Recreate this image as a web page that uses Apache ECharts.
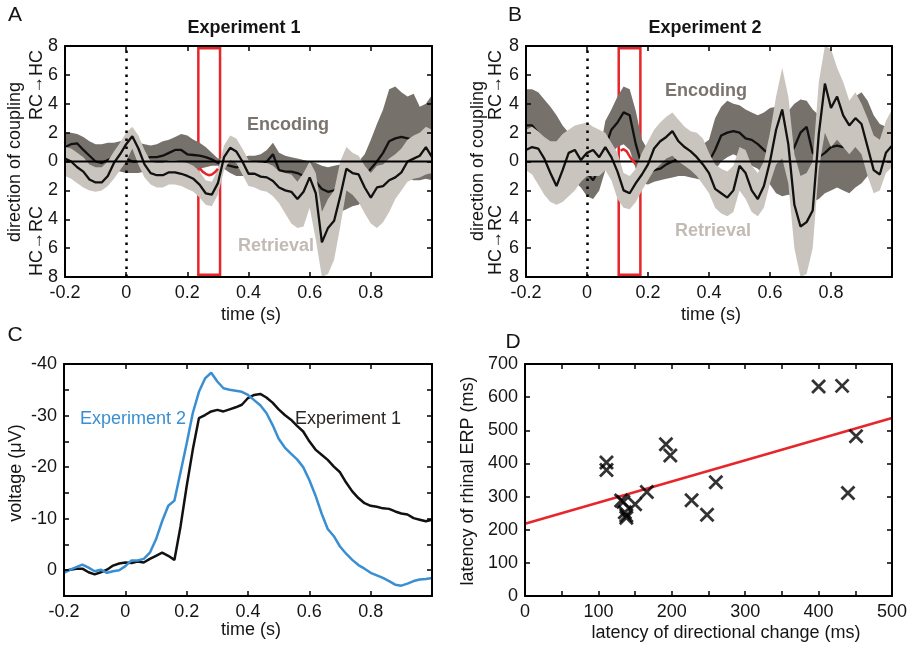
<!DOCTYPE html>
<html><head><meta charset="utf-8">
<script src="https://cdn.jsdelivr.net/npm/echarts@6/dist/echarts.min.js"></script>
<style>html,body{margin:0;padding:0;background:#fff}#c{width:915px;height:646px}</style>
</head><body><div id="c"></div><script>
// shared time grid (s)
const T = [-0.2,-0.18,-0.16,-0.14,-0.12,-0.1,-0.08,-0.06,-0.04,-0.02,0,0.02,0.04,0.06,0.08,0.1,0.12,0.14,0.16,0.18,0.2,0.22,0.24,0.26,0.28,0.3,0.32,0.34,0.36,0.38,0.4,0.42,0.44,0.46,0.48,0.5,0.52,0.54,0.56,0.58,0.6,0.62,0.64,0.66,0.68,0.7,0.72,0.74,0.76,0.78,0.8,0.82,0.84,0.86,0.88,0.9,0.92,0.94,0.96,0.98,1.0];

// Panel A (Experiment 1)
const A_retMean = [0.2,0.0,-0.4,-0.7,-1.25,-1.45,-1.45,-1.0,-0.1,0.5, 1.2,1.75,0.9,-0.2,-0.8,-0.95,-0.95,-0.75,-0.75,-0.85, -1.0,-1.2,-1.6,-2.2,-2.3,-1.5,0.3,0.95,0.7,0.0, -0.85,-0.85,-1.05,-1.1,-1.35,-1.8,-2.0,-2.1,-2.6,-2.1, -1.1,-2.2,-5.6,-4.6,-4.1,-2.4,-0.5,-0.8,-0.9,-1.8, -2.5,-1.8,-1.7,-1.3,-1.1,-0.75,0.0,0.2,0.4,1.0, 0.3];
const A_retUp = [1.0,0.9,0.6,0.3,-0.2,-0.4,-0.4,0.0,0.7,1.3, 2.0,2.4,1.8,0.8,0.0,-0.1,-0.1,0.1,0.1,0.0, -0.1,-0.3,-0.7,-1.3,-1.4,-0.6,1.1,1.8,1.6,0.9, 0.1,0.0,-0.1,-0.1,-0.3,-0.7,-0.8,-0.9,-1.4,-0.8, 0.0,-0.8,-3.5,-2.6,-2.0,0.0,1.0,0.6,0.4,-0.3, -0.8,-0.3,-0.2,0.2,0.5,0.9,1.5,1.8,2.0,2.4, 2.2];
const A_retLo = [-1.0,-1.2,-1.5,-1.8,-2.0,-2.1,-2.0,-1.7,-1.2,-0.6, 0.0,0.9,-0.2,-1.1,-1.6,-1.8,-1.8,-1.6,-1.6,-1.7, -1.9,-2.1,-2.5,-3.0,-3.1,-2.3,-0.6,0.1,-0.1,-0.9, -1.7,-1.8,-2.0,-2.1,-2.4,-2.9,-3.6,-4.3,-4.6,-4.5, -3.2,-5.4,-8.0,-7.8,-6.8,-4.5,-2.0,-2.3,-2.8,-3.6, -4.3,-4.6,-4.2,-3.5,-2.6,-2.0,-1.4,-1.2,-1.1,-0.9, -0.8];
const A_encMean = [1.0,1.2,1.25,0.8,0.4,0.0,-0.1,0.1,0.3,0.3, 0.2,0.0,0.0,0.2,0.3,0.3,0.4,0.6,0.8,0.8, 0.5,0.45,0.4,0.3,0.15,-0.1,-0.2,-0.3,-0.4,-0.3, -0.2,-0.2,-0.3,0.0,0.5,-0.6,-0.7,-0.7,-0.8,-1.0, -1.2,-1.4,-1.9,-2.1,-2.0,-1.8,-1.6,-1.5,-1.3,-1.0, -0.5,0.0,0.6,1.4,1.6,1.7,1.6,1.5,1.2,1.5, 1.6];
const A_encUp = [2.0,2.0,1.9,1.7,1.4,1.2,1.2,1.3,1.3,1.4, 1.4,1.3,1.3,1.2,1.1,1.2,1.4,1.5,1.7,1.9, 1.8,1.5,1.3,1.0,0.6,0.2,0.3,0.2,0.2,0.3, 0.4,0.4,0.5,0.8,1.3,0.6,0.4,0.3,0.2,0.1, 0.0,-0.1,-0.3,-0.4,-0.3,-0.2,-0.1,0.0,0.0,0.5, 1.5,2.6,3.6,5.0,5.2,4.8,4.5,4.7,3.8,4.0, 4.6];
const A_encLo = [-0.7,-0.6,-0.5,-0.5,-0.5,-0.5,-0.6,-0.6,-0.6,-0.7, -0.8,-0.8,-0.8,-0.7,-0.6,-0.7,-0.6,-0.4,-0.2,-0.2, -0.4,-0.5,-0.5,-0.4,-0.3,-0.3,-0.5,-0.8,-1.0,-1.0, -1.0,-1.1,-1.2,-1.2,-0.9,-1.2,-1.4,-1.5,-1.7,-2.2, -2.6,-3.0,-3.5,-3.7,-3.75,-3.5,-3.3,-3.1,-3.0,-2.6, -2.0,-1.7,-1.7,-1.5,-1.3,-1.2,-1.2,-1.3,-1.3,-1.2, -1.3];
const A_redT = [0.24,0.25,0.26,0.27,0.28,0.29,0.30];
const A_red = [-0.45,-0.7,-0.85,-0.95,-0.9,-0.75,-0.5];
const A_box = [0.236, 0.307];

// Panel B (Experiment 2)
const B_retMean = [0.8,1.0,0.9,0.2,-0.8,-1.7,-0.6,0.6,0.8,0.1, 0.6,0.8,0.3,1.0,0.3,-0.7,-2.0,-2.2,-1.5,-0.9, -0.2,0.9,1.4,1.7,2.1,1.4,1.0,0.7,0.3,-0.2, -0.8,-1.9,-2.2,-2.5,-2.0,-0.3,-0.8,-2.0,-2.6,-1.7, 0.0,2.2,3.6,1.2,-3.0,-4.5,-4.2,-3.4,1.9,5.4, 3.7,4.5,3.2,2.5,3.0,2.6,1.0,-0.6,-0.9,0.6, 1.1];
const B_retUp = [2.2,2.4,2.1,1.7,1.4,1.4,1.9,2.2,2.5,2.6, 2.7,2.4,2.2,2.0,1.3,0.6,-0.8,-1.0,-0.5,0.6, 1.4,2.2,2.7,3.1,3.4,2.9,2.4,2.1,2.0,1.6, 0.6,-0.2,-0.5,-0.7,-0.3,1.0,0.8,-0.3,-0.8,0.0, 2.0,4.5,6.5,4.5,0.5,-1.0,-0.8,0.0,5.5,8.0, 7.8,6.5,5.5,4.2,4.8,4.0,3.0,1.8,1.5,2.8, 3.6];
const B_retLo = [-0.6,-0.9,-1.6,-2.3,-2.8,-3.0,-2.8,-2.4,-2.0,-1.4, -1.0,-1.0,-1.0,-0.6,-1.3,-2.6,-3.2,-3.3,-2.8,-2.0, -1.3,-0.6,-0.2,0.2,0.4,0.0,-0.3,-0.6,-1.0,-1.6, -2.2,-3.2,-3.6,-3.8,-3.5,-2.0,-2.6,-3.5,-3.8,-3.2, -1.5,-0.2,0.2,-1.5,-6.0,-8.0,-7.8,-6.0,-0.5,2.0, 1.0,1.5,1.0,0.5,1.0,0.5,-1.0,-2.2,-2.0,-0.8, -0.4];
const B_encMean = [2.5,2.5,2.0,1.5,1.2,0.85,0.7,0.5,0.3,0.0, -0.8,-1.3,-0.5,1.0,2.2,2.7,3.4,3.2,1.2,-0.3, -0.8,-0.6,-0.5,-0.2,0.0,0.2,0.3,0.2,0.0,-0.1, 0.0,0.8,1.8,2.0,2.1,2.0,1.6,1.5,1.2,0.8, 0.5,0.6,0.3,0.2,1.0,2.0,2.4,0.6,0.3,0.6, 1.0,1.1,1.0,1.8,2.5,2.3,1.6,0.9,0.6,0.8, 1.0];
const B_encUp = [5.0,5.0,4.8,4.3,3.8,3.2,2.5,2.0,1.2,0.8, 0.0,-0.3,0.5,2.8,3.6,4.5,5.2,5.0,3.5,1.5, 0.8,0.8,1.0,1.2,1.4,1.5,1.5,1.4,1.2,1.2, 1.5,3.0,3.8,4.2,4.0,3.9,3.6,3.4,3.2,3.4, 3.7,3.8,3.5,3.5,4.0,4.3,4.2,3.6,3.2,3.6, 4.2,4.6,4.3,3.8,4.5,4.8,4.2,3.2,2.6,2.4, 2.5];
const B_encLo = [0.3,0.3,-0.2,-0.5,-0.8,-1.2,-1.3,-1.3,-1.4,-1.8, -2.4,-2.6,-2.0,-0.6,0.6,1.0,1.2,0.8,-0.5,-1.5, -1.6,-1.4,-1.3,-1.2,-1.1,-1.0,-1.0,-1.1,-1.2,-1.3, -1.2,-0.6,0.0,0.3,0.5,0.3,0.0,-0.3,-0.5,-1.0, -1.6,-2.2,-2.4,-2.3,-2.4,-2.6,-2.8,-2.8,-2.6,-2.2, -2.0,-1.8,-2.0,-2.2,-1.8,-1.5,-1.0,-0.6,-0.5,-0.3, 0.0];
const B_redT = [0.11,0.12,0.13,0.14,0.15,0.16];
const B_red = [0.75,0.85,0.7,0.35,0.05,-0.2];
const B_box = [0.104, 0.175];

// Panel C (voltage, µV)
const C_exp1 = [0.2,-0.1,-0.3,-0.3,0.4,0.8,0.4,-0.1,-0.9,-1.3, -1.5,-1.4,-1.7,-1.5,-2.2,-2.8,-3.4,-2.8,-2.0,-8.5, -16.3,-23.4,-29.5,-30.1,-30.8,-31.1,-30.8,-31.2,-31.6,-32.1, -33.4,-34.0,-34.2,-33.5,-32.5,-31.2,-30.1,-29.2,-28.0,-26.9, -25.0,-23.4,-22.4,-21.4,-20.1,-19.0,-17.0,-15.3,-14.0,-13.0, -12.5,-12.3,-12.0,-11.9,-11.4,-11.0,-10.8,-10.1,-9.8,-9.5, -9.8];
const C_exp2 = [0.5,-0.1,-0.6,-1.1,-0.5,0.2,-0.1,0.5,0.2,0.0, -0.8,-1.9,-1.9,-2.2,-3.4,-6.0,-9.5,-12.5,-13.5,-19.0, -24.6,-30.5,-34.6,-37.2,-38.3,-36.6,-35.3,-35.0,-34.8,-34.6, -34.0,-33.0,-32.0,-30.5,-28.2,-25.5,-23.8,-22.6,-21.5,-20.0, -17.5,-14.5,-11.0,-8.0,-6.6,-4.6,-3.2,-2.0,-1.0,-0.3, 0.5,1.0,1.5,2.1,2.8,3.0,2.6,2.1,1.8,1.7, 1.5];

// Panel D (scatter, ms)
const D_x = [111,111,131,134,136,138,138,150,166,192,198,227,248,260,400,432,451,440];
const D_y = [403,380,288,284,253,243,236,277,314,458,424,289,245,343,632,634,482,311];
const D_fitX = [0, 500];
const D_fitY = [218, 537];

const FONT = '"Liberation Sans", Arial, Helvetica, sans-serif';
const DARK = '#77716c', LIGHT = '#cac4be', RED = '#e6262b';
const chart = echarts.init(document.getElementById('c'));

const grids = [
  {left:65, top:46, width:367, height:231},
  {left:526, top:46, width:366, height:231},
  {left:64, top:364, width:368, height:232},
  {left:525, top:364, width:367, height:232}
];
const labelStyle = {fontFamily:FONT, fontSize:18, color:'#151515'};
function ax(g, pos, min, max, itv, fmt, extra) {
  const o = {type:'value', gridIndex:g, position:pos, min:min, max:max, interval:itv, z:10,
    axisLine:{show:true, onZero:false, lineStyle:{color:'#000', width:2}},
    axisTick:{show:true, inside:true, length:5, lineStyle:{color:'#000', width:1.5}},
    axisLabel: fmt ? Object.assign({show:true, margin:7, formatter:fmt}, labelStyle) : {show:false},
    splitLine:{show:false}};
  return Object.assign(o, extra || {});
}
const fmtT = v => Math.abs(v-1) < 1e-6 ? '' : String(+v.toFixed(1));
const fmtAbs = v => String(Math.abs(Math.round(v)));
const fmtC = v => (Math.round(v) % 10 === 0 && v <= 0) ? String(Math.round(v)) : '';
const fmt100 = v => (Math.round(v) % 100 === 0) ? String(Math.round(v)) : '';

const xAxis = [
  ax(0,'bottom',-0.2,1.0,0.2,fmtT), ax(0,'top',-0.2,1.0,0.2,null),
  ax(1,'bottom',-0.2,1.0,0.2,fmtT), ax(1,'top',-0.2,1.0,0.2,null),
  ax(2,'bottom',-0.2,1.0,0.2,fmtT), ax(2,'top',-0.2,1.0,0.2,null),
  ax(3,'bottom',0,500,50,fmt100), ax(3,'top',0,500,50,null)
];
const yAxis = [
  ax(0,'left',-8,8,2,fmtAbs), ax(0,'right',-8,8,2,null),
  ax(1,'left',-8,8,2,fmtAbs), ax(1,'right',-8,8,2,null),
  ax(2,'left',-40,5,5,fmtC,{inverse:true}), ax(2,'right',-40,5,5,null,{inverse:true}),
  ax(3,'left',0,700,100,fmt100), ax(3,'right',0,700,100,null)
];

function pairs(xs, ys) { return xs.map((x,i) => [x, ys[i]]); }
function band(p, up, lo, color, z) {
  return {type:'custom', xAxisIndex:2*p, yAxisIndex:2*p, z:z, silent:true, clip:true,
    data:[[T[0], up[0]]],
    renderItem: function(params, api) {
      const pts = [];
      for (let i = 0; i < T.length; i++) pts.push(api.coord([T[i], up[i]]));
      for (let i = T.length-1; i >= 0; i--) pts.push(api.coord([T[i], lo[i]]));
      return {type:'polygon', shape:{points:pts}, style:{fill:color}};
    }};
}
function line(p, xs, ys, color, width, z) {
  return {type:'line', xAxisIndex:2*p, yAxisIndex:2*p, z:z, silent:true, symbol:'none',
    data:pairs(xs, ys), lineStyle:{color:color, width:width}, animation:false};
}
function frame(p, box) {
  return {type:'line', xAxisIndex:2*p, yAxisIndex:2*p, z:6, silent:true, symbol:'none',
    data:[[-0.2,0],[1.0,0]], lineStyle:{color:'#000', width:2},
    markLine:{silent:true, symbol:['none','none'], label:{show:false},
      lineStyle:{color:'#000', width:2.5, type:[2.5,5.5]}, data:[{xAxis:0}]},
    markArea:{silent:true, itemStyle:{color:'rgba(0,0,0,0)', borderColor:RED, borderWidth:2.5},
      data:[[{xAxis:box[0], yAxis:-7.85},{xAxis:box[1], yAxis:7.85}]]}};
}

const series = [
  band(0, A_encUp, A_encLo, DARK, 1),
  line(0, T, A_encMean, '#111', 2.3, 2),
  band(0, A_retUp, A_retLo, LIGHT, 3),
  line(0, T, A_retMean, '#111', 2.3, 4),
  frame(0, A_box),
  line(0, A_redT, A_red, RED, 2.5, 7),

  band(1, B_encUp, B_encLo, DARK, 1),
  line(1, T, B_encMean, '#111', 2.3, 2),
  band(1, B_retUp, B_retLo, LIGHT, 3),
  line(1, T, B_retMean, '#111', 2.3, 4),
  frame(1, B_box),
  line(1, B_redT, B_red, RED, 2.5, 7),

  line(2, T, C_exp1, '#111', 2.5, 3),
  line(2, T, C_exp2, '#3a8fd2', 2.5, 4),

  line(3, D_fitX, D_fitY, RED, 2.5, 3),
  {type:'scatter', xAxisIndex:6, yAxisIndex:6, z:4, silent:true,
   symbol:'path://M0,0L10,10M10,0L0,10', symbolSize:13,
   itemStyle:{color:'rgba(0,0,0,0)', borderColor:'#000', borderWidth:2.8},
   data:pairs(D_x, D_y)}
];

function txt(text, x, y, opts) {
  return Object.assign({type:'text', x:x, y:y, silent:true, z:20,
    style:Object.assign({text:text, fontFamily:FONT, fontSize:18, fill:'#151515',
      textAlign:'center', textVerticalAlign:'middle'}, (opts && opts.style) || {})},
    opts && opts.rotation ? {rotation:opts.rotation} : {});
}
const R = Math.PI/2;
const graphic = [
  txt('A', 15, 15, {style:{fontSize:21}}),
  txt('B', 515, 15, {style:{fontSize:21}}),
  txt('C', 15, 335, {style:{fontSize:21}}),
  txt('D', 513, 342, {style:{fontSize:21}}),
  txt('Experiment 1', 244, 28, {style:{fontWeight:'bold'}}),
  txt('Experiment 2', 705, 28, {style:{fontWeight:'bold'}}),
  txt('direction of coupling', 15, 162, {rotation:R}),
  txt('RC\u2192HC', 37, 85, {rotation:R}),
  txt('HC\u2192RC', 37, 241, {rotation:R}),
  txt('direction of coupling', 478, 161, {rotation:R}),
  txt('RC\u2192HC', 496, 85, {rotation:R}),
  txt('HC\u2192RC', 496, 240, {rotation:R}),
  txt('time (s)', 251, 315),
  txt('time (s)', 711, 315),
  txt('time (s)', 251, 630),
  txt('voltage (\u03bcV)', 16, 473, {rotation:R}),
  txt('latency of rhinal ERP (ms)', 468, 481, {rotation:R}),
  txt('latency of directional change (ms)', 726, 633),
  txt('Encoding', 288, 125, {style:{fontWeight:'bold', fill:'#7b746e'}}),
  txt('Retrieval', 276, 246, {style:{fontWeight:'bold', fill:'#c2bbb4'}}),
  txt('Encoding', 706, 91, {style:{fontWeight:'bold', fill:'#7b746e'}}),
  txt('Retrieval', 713, 231, {style:{fontWeight:'bold', fill:'#c2bbb4'}}),
  txt('Experiment 2', 133, 419, {style:{fill:'#3a8fd2'}}),
  txt('Experiment 1', 348, 419, {style:{fill:'#2a2522'}})
];

chart.setOption({animation:false, backgroundColor:'#fff', grid:grids, xAxis:xAxis, yAxis:yAxis, series:series, graphic:graphic});
</script></body></html>
